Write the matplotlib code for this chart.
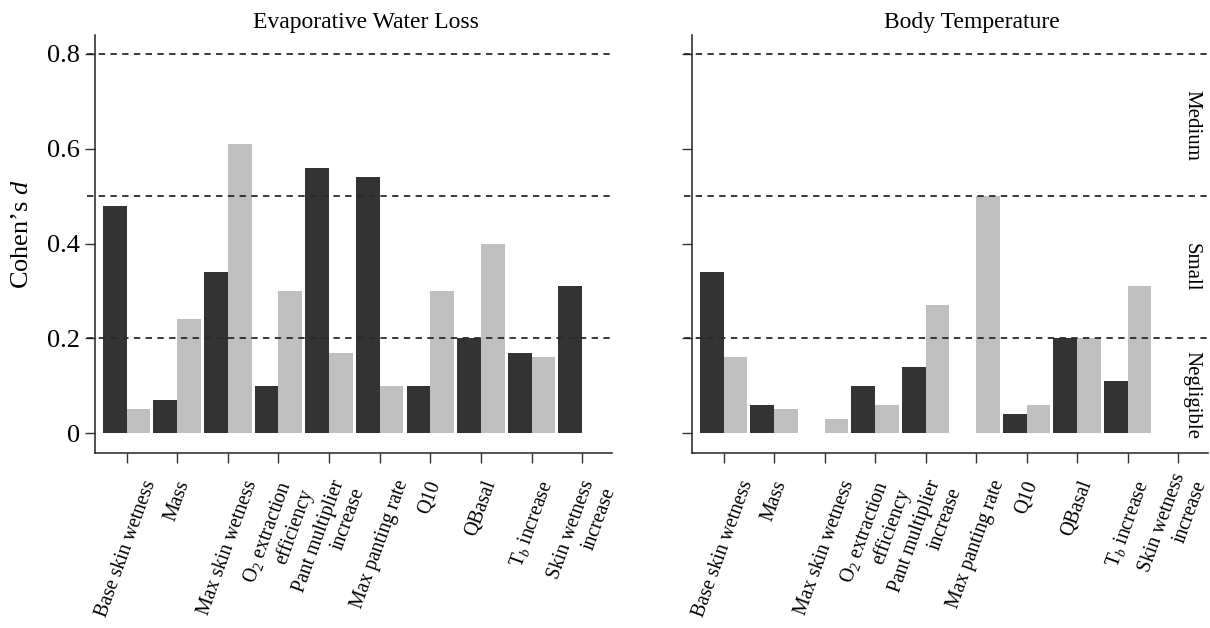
import matplotlib
matplotlib.use("Agg")
import matplotlib.pyplot as plt
import matplotlib.transforms as mtransforms
import numpy as np

plt.rcParams['font.family'] = ['Liberation Serif', 'DejaVu Serif']
plt.rcParams['mathtext.fontset'] = 'custom'
plt.rcParams['mathtext.rm'] = 'Liberation Serif'
plt.rcParams['mathtext.it'] = 'Liberation Serif:italic'

categories = ["Base skin wetness", "Mass", "Max skin wetness",
              "O$_2$ extraction\nefficiency", "Pant multiplier\nincrease",
              "Max panting rate", "Q10", "QBasal", "T$_b$ increase",
              "Skin wetness\nincrease"]

ewl_dark = [0.48, 0.07, 0.34, 0.10, 0.56, 0.54, 0.10, 0.20, 0.17, 0.31]
ewl_light = [0.05, 0.24, 0.61, 0.30, 0.17, 0.10, 0.30, 0.40, 0.16, 0.0]
bt_dark = [0.34, 0.06, 0.0, 0.10, 0.14, 0.0, 0.04, 0.20, 0.11, 0.0]
bt_light = [0.16, 0.05, 0.03, 0.06, 0.27, 0.50, 0.06, 0.20, 0.31, 0.0]

thresholds = [0.2, 0.5, 0.8]
y_ticks = [0, 0.2, 0.4, 0.6, 0.8]
y_ticklabels = ["0", "0.2", "0.4", "0.6", "0.8"]
titles = ["Evaporative Water Loss", "Body Temperature"]
zone_labels = ["Medium", "Small", "Negligible"]
zone_y = [0.65, 0.35, 0.08]

DARK = "#333333"
LIGHT = "#bfbfbf"
W, H = 1210, 628
fig = plt.figure(figsize=(W / 100, H / 100), dpi=100)

axes_px = [(95, 612), (692, 1208)]
top_px, bot_px = 35, 453
title_cx = [366, 972]

data = [(ewl_dark, ewl_light), (bt_dark, bt_light)]
x = np.arange(len(categories))
bw = 0.47
LABEL_FS = 14.2

for i, ((x0, x1), (dark, light)) in enumerate(zip(axes_px, data)):
    ax = fig.add_axes([x0 / W, 1 - bot_px / H, (x1 - x0) / W, (bot_px - top_px) / H])
    ax.bar(x, dark, width=-bw, align='edge', color=DARK, linewidth=0, zorder=2)
    ax.bar(x, light, width=bw, align='edge', color=LIGHT, linewidth=0, zorder=2)
    for t in thresholds:
        ax.axhline(t, xmin=-0.016, xmax=1, color="#2a2a2a", lw=1.3,
                   dashes=(3.5, 3), zorder=3, clip_on=False)
    ax.set_xlim(-0.625, 9.59)
    ax.set_ylim(-0.042, 0.840)
    for s in ['top', 'right']:
        ax.spines[s].set_visible(False)
    for s in ['left', 'bottom']:
        ax.spines[s].set_color("#222222")
        ax.spines[s].set_linewidth(1.1)
    ax.set_yticks(y_ticks)
    ax.set_xticks(x)
    if i == 0:
        ax.set_xticklabels(categories, rotation=70, fontsize=LABEL_FS, multialignment='right')
    else:
        shown = list(categories[:-1]) + [""]
        ax.set_xticklabels(shown, rotation=70, fontsize=LABEL_FS, multialignment='right')
        bt = mtransforms.blended_transform_factory(ax.transData, ax.transAxes)
        ax.annotate(categories[-1], xy=(x[-1], 0), xycoords=bt,
                    xytext=(-5 * 0.72, -18 * 0.72), textcoords='offset points',
                    rotation=70, ha='center', va='top', fontsize=LABEL_FS,
                    multialignment='right', annotation_clip=False)
    ax.tick_params(axis='both', length=7, width=1.0, color="#333333")
    ax.tick_params(axis='y', pad=4)
    ax.tick_params(axis='x', pad=11)
    if i == 0:
        ax.set_yticklabels(y_ticklabels, fontsize=19)
    else:
        ax.set_yticklabels([])
        trans = mtransforms.blended_transform_factory(ax.transAxes, ax.transData)
        for lab, yy in zip(zone_labels, zone_y):
            ax.text(0.968, yy, lab, transform=trans, rotation=270,
                    ha='center', va='center', fontsize=15)
    fig.text(title_cx[i] / W, 1 - 28 / H, titles[i], ha='center', va='baseline', fontsize=17)

fig.text(22 / W, 1 - 234 / H, "Cohen\u2019s $d$", rotation=90, ha='center', va='center', fontsize=19)

fig.savefig("out.png", dpi=100)
